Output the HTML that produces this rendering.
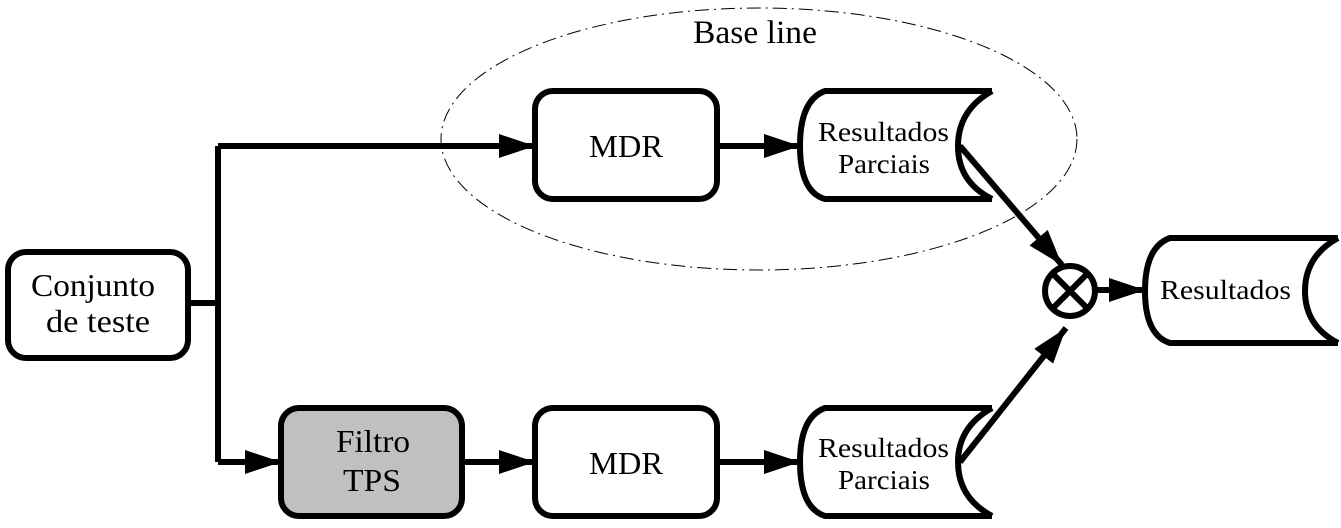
<!DOCTYPE html>
<html><head><meta charset="utf-8"><style>
body{margin:0;background:#fff}
text{font-family:"Liberation Serif","Times New Roman",serif;fill:#000}
</style></head><body>
<svg width="1341" height="523" viewBox="0 0 1341 523" xmlns="http://www.w3.org/2000/svg">
<defs>
<marker id="b" viewBox="0 0 36 24" refX="36" refY="12" markerWidth="36" markerHeight="24" orient="auto" markerUnits="userSpaceOnUse"><path d="M0,0 L36,12 L0,24Z" fill="#000"/></marker></defs>
<ellipse cx="759" cy="139" rx="318" ry="131" fill="none" stroke="#000" stroke-width="1" stroke-dasharray="14,5,2,5"/>
<text x="693" y="43" font-size="33" textLength="124" lengthAdjust="spacingAndGlyphs">Base line</text>
<g fill="none" stroke="#000" stroke-width="6">
<rect x="8" y="252" width="180" height="106" rx="18" fill="#fff"/>
<rect x="535" y="91" width="182" height="108" rx="18"/>
<rect x="535" y="408" width="182" height="108" rx="18"/>
<rect x="281" y="408" width="181" height="108" rx="18" fill="#c0c0c0"/>
<path d="M188,303 H218 M218,146 V462"/>
<path d="M218,146 H535" marker-end="url(#b)"/>
<path d="M218,462 H281" marker-end="url(#b)"/>
<path d="M462,462 H535" marker-end="url(#b)"/>
<path d="M717,146 H800" marker-end="url(#b)"/>
<path d="M717,462 H800" marker-end="url(#b)"/>
<path d="M992,91 H825 Q800,100 800,146 Q800,192 825,199 H992 M992,91 Q958,110 958,146 Q958,182 992,199"/>
<path d="M992,408 H825 Q800,417 800,462 Q800,508 825,516 H992 M992,408 Q958,427 958,462 Q958,498 992,516"/>
<path d="M1338,238 H1170 Q1145,247 1145,291 Q1145,335 1170,343 H1338 M1338,238 Q1305,256 1305,291 Q1305,326 1338,343"/>
<path d="M960,146 L1062,265" marker-end="url(#b)"/>
<path d="M960,462 L1066,328" marker-end="url(#b)"/>
<path d="M1095,290 H1145" marker-end="url(#b)"/>
<circle cx="1070" cy="291" r="25" fill="#fff"/>
<path d="M1052,273 L1088,309 M1088,273 L1052,309"/>
</g>
<g font-size="32" lengthAdjust="spacingAndGlyphs">
<text x="31" y="296" textLength="124" lengthAdjust="spacingAndGlyphs">Conjunto</text>
<text x="46" y="332" textLength="104" lengthAdjust="spacingAndGlyphs">de teste</text>
<text x="589" y="157" textLength="74" lengthAdjust="spacingAndGlyphs">MDR</text>
<text x="589" y="474" textLength="74" lengthAdjust="spacingAndGlyphs">MDR</text>
<text x="336" y="452" textLength="74" lengthAdjust="spacingAndGlyphs">Filtro</text>
<text x="343" y="491" textLength="58" lengthAdjust="spacingAndGlyphs">TPS</text>
</g>
<g font-size="27">
<text x="818" y="141" textLength="131" lengthAdjust="spacingAndGlyphs">Resultados</text>
<text x="838" y="173" textLength="92" lengthAdjust="spacingAndGlyphs">Parciais</text>
<text x="818" y="457" textLength="131" lengthAdjust="spacingAndGlyphs">Resultados</text>
<text x="838" y="489" textLength="92" lengthAdjust="spacingAndGlyphs">Parciais</text>
<text x="1160" y="299" textLength="131" lengthAdjust="spacingAndGlyphs">Resultados</text>
</g>
</svg>
</body></html>
